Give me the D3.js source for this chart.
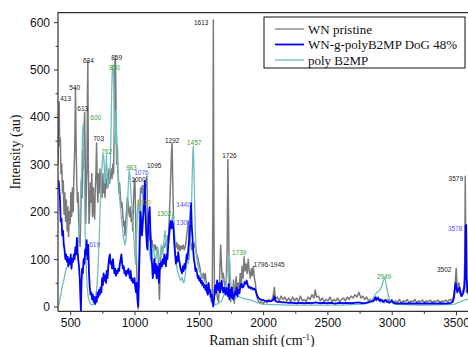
<!DOCTYPE html>
<html><head><meta charset="utf-8">
<script src="https://cdn.jsdelivr.net/npm/d3@7"></script>
<style>body{margin:0;background:#fff;}svg{display:block;}</style>
</head><body><svg id="c" width="468" height="347"></svg>
<script>
// ---- data (Raman shift cm-1 , intensity au) ----
const seriesNames = ["WN pristine", "WN-g-polyB2MP DoG 48%", "poly B2MP"];
const pristine = [[405,300],[410,380],[414,432],[418,340],[423,355],[428,280],[434,300],[440,240],[446,265],[452,195],[458,240],[464,180],[470,225],[476,160],[482,210],[487,148],[493,200],[499,175],[505,240],[511,190],[517,250],[523,200],[529,280],[535,330],[541,461],[546,340],[551,260],[556,220],[561,240],[566,180],[571,150],[577,127],[582,200],[587,265],[592,230],[597,330],[603,290],[608,380],[612,410],[617,300],[621,175],[626,260],[630,290],[634,450],[637,518],[641,300],[646,175],[651,200],[657,260],[662,220],[668,280],[673,190],[679,250],[684,200],[690,185],[695,250],[700,280],[705,345],[710,260],[715,220],[720,280],[726,240],[731,290],[737,250],[742,270],[748,230],[754,280],[759,240],[765,260],[771,230],[777,270],[783,250],[789,280],[795,255],[801,290],[807,260],[813,275],[819,290],[825,270],[831,300],[837,280],[843,380],[848,515],[852,525],[856,420],[861,300],[866,340],[872,280],[878,240],[884,260],[890,230],[896,210],[902,220],[908,200],[914,170],[920,180],[926,150],[932,180],[938,200],[944,230],[950,220],[956,200],[962,190],[968,210],[974,180],[980,200],[986,160],[992,220],[998,262],[1003,270],[1008,200],[1013,120],[1018,70],[1023,20],[1028,-5],[1033,60],[1038,150],[1043,220],[1048,250],[1054,240],[1060,255],[1066,230],[1072,250],[1078,235],[1084,260],[1090,250],[1096,275],[1101,200],[1106,150],[1112,170],[1118,140],[1124,160],[1130,135],[1136,140],[1142,125],[1148,130],[1155,120],[1162,130],[1170,118],[1178,125],[1184,110],[1190,40],[1194,15],[1198,60],[1204,110],[1210,125],[1218,120],[1226,130],[1234,125],[1242,135],[1250,130],[1258,150],[1265,140],[1272,200],[1280,260],[1287,320],[1292,345],[1297,270],[1302,200],[1308,160],[1315,130],[1322,125],[1330,135],[1338,120],[1346,130],[1354,118],[1362,128],[1370,122],[1378,130],[1386,120],[1394,125],[1402,140],[1410,160],[1418,180],[1424,150],[1430,130],[1438,135],[1446,120],[1454,130],[1462,125],[1470,135],[1478,115],[1486,110],[1494,100],[1502,90],[1510,80],[1518,65],[1526,60],[1534,70],[1542,55],[1550,70],[1558,50],[1566,45],[1574,40],[1582,30],[1590,20],[1598,10],[1604,20],[1609,200],[1613,605],[1617,200],[1622,30],[1628,25],[1636,40],[1644,20],[1652,10],[1658,30],[1664,80],[1670,130],[1676,90],[1682,60],[1690,70],[1698,50],[1706,40],[1714,60],[1720,120],[1726,310],[1731,200],[1736,60],[1742,30],[1748,10],[1755,40],[1762,20],[1770,56],[1776,7],[1784,40],[1790,63],[1798,30],[1806,50],[1814,30],[1822,70],[1830,40],[1836,85],[1844,60],[1852,105],[1860,75],[1868,90],[1876,70],[1884,100],[1892,75],[1900,60],[1908,80],[1916,65],[1924,85],[1932,60],[1940,50],[1948,25],[1958,15],[1970,8],[1985,10],[2000,5],[2015,12],[2030,8],[2045,15],[2060,10],[2075,18],[2088,40],[2095,15],[2110,20],[2125,12],[2140,22],[2155,15],[2170,20],[2185,12],[2200,18],[2215,10],[2230,20],[2245,12],[2260,18],[2275,10],[2290,22],[2305,12],[2320,15],[2335,10],[2350,20],[2365,15],[2380,25],[2395,18],[2405,35],[2415,20],[2430,22],[2445,12],[2460,18],[2475,10],[2490,15],[2505,12],[2520,20],[2535,10],[2550,15],[2565,12],[2580,18],[2595,10],[2610,15],[2625,18],[2640,12],[2655,20],[2670,15],[2685,22],[2700,18],[2715,25],[2730,20],[2745,30],[2760,18],[2775,22],[2790,15],[2805,20],[2820,12],[2835,15],[2850,10],[2865,18],[2880,12],[2895,20],[2910,10],[2925,15],[2940,8],[2955,12],[2970,15],[2985,10],[3000,15],[3015,8],[3030,12],[3045,8],[3060,15],[3075,8],[3090,12],[3105,10],[3120,15],[3135,8],[3150,12],[3165,10],[3180,15],[3195,8],[3210,12],[3225,10],[3240,14],[3255,8],[3270,12],[3285,10],[3300,14],[3315,8],[3330,12],[3345,10],[3360,14],[3375,8],[3390,12],[3405,10],[3420,14],[3435,10],[3450,15],[3465,12],[3480,20],[3490,40],[3497,65],[3502,81],[3507,50],[3514,35],[3522,50],[3530,40],[3538,25],[3546,30],[3554,35],[3562,40],[3568,100],[3572,275],[3576,120],[3582,30],[3590,30],[3600,25],[3650,25]];
const grafted = [[405,255],[410,265],[414,250],[420,230],[426,180],[432,185],[438,150],[444,160],[450,130],[456,120],[462,100],[468,110],[474,95],[480,105],[486,85],[492,100],[498,90],[504,110],[510,80],[516,100],[522,95],[528,110],[534,100],[540,125],[546,110],[552,145],[557,115],[562,100],[568,85],[574,60],[579,20],[583,-8],[587,40],[592,80],[598,70],[604,100],[610,90],[616,120],[622,110],[628,140],[634,100],[640,130],[646,70],[652,40],[658,25],[664,30],[670,15],[676,25],[682,10],[688,20],[694,5],[700,20],[706,10],[712,30],[718,20],[724,35],[730,25],[736,40],[742,30],[748,60],[754,45],[760,70],[766,55],[772,65],[778,50],[784,75],[790,60],[796,85],[802,100],[808,110],[814,90],[820,95],[826,80],[832,100],[838,85],[844,70],[850,80],[856,65],[862,75],[868,70],[874,80],[880,75],[886,90],[892,100],[898,110],[904,90],[910,80],[916,85],[922,70],[928,75],[934,65],[940,75],[946,70],[952,80],[958,70],[964,60],[970,75],[976,55],[982,60],[988,50],[994,55],[1000,60],[1006,40],[1012,30],[1018,50],[1024,10],[1029,0],[1034,60],[1040,120],[1046,200],[1052,180],[1058,150],[1064,175],[1070,200],[1076,230],[1080,265],[1085,200],[1090,160],[1096,130],[1100,120],[1106,170],[1112,195],[1118,210],[1124,150],[1130,110],[1136,90],[1142,60],[1148,80],[1154,100],[1160,70],[1166,90],[1172,60],[1178,85],[1184,70],[1190,50],[1196,90],[1202,80],[1208,95],[1214,85],[1220,100],[1226,90],[1232,110],[1238,95],[1244,85],[1250,110],[1256,100],[1262,130],[1268,150],[1274,170],[1280,180],[1286,165],[1292,180],[1298,175],[1304,160],[1310,130],[1316,110],[1322,90],[1328,105],[1334,95],[1340,115],[1346,100],[1352,90],[1358,80],[1364,75],[1370,70],[1376,85],[1382,75],[1388,90],[1394,80],[1400,95],[1406,110],[1412,100],[1418,120],[1424,140],[1430,160],[1436,200],[1440,218],[1445,170],[1450,150],[1456,120],[1462,100],[1468,90],[1474,75],[1480,80],[1486,70],[1492,60],[1498,65],[1504,55],[1510,60],[1516,50],[1522,55],[1528,45],[1534,50],[1540,40],[1546,45],[1552,35],[1558,45],[1564,30],[1570,25],[1576,50],[1582,30],[1588,35],[1594,20],[1600,25],[1606,10],[1612,0],[1618,15],[1624,40],[1630,45],[1636,30],[1642,55],[1648,40],[1654,35],[1660,50],[1666,30],[1672,45],[1678,55],[1684,35],[1690,30],[1696,40],[1702,35],[1708,25],[1714,40],[1720,30],[1726,22],[1732,48],[1738,15],[1744,35],[1750,20],[1756,40],[1762,18],[1770,15],[1778,30],[1786,25],[1794,40],[1800,22],[1808,35],[1816,28],[1824,45],[1832,48],[1840,40],[1848,42],[1856,52],[1864,48],[1872,55],[1880,45],[1888,40],[1896,42],[1904,38],[1912,40],[1920,36],[1930,38],[1940,35],[1948,28],[1956,22],[1966,18],[1976,15],[1990,14],[2005,13],[2020,12],[2035,12],[2050,11],[2065,12],[2080,14],[2088,22],[2095,12],[2110,10],[2130,10],[2150,9],[2170,9],[2200,8],[2230,8],[2260,7],[2290,8],[2320,7],[2350,8],[2380,7],[2410,9],[2440,7],[2470,8],[2500,7],[2530,8],[2560,6],[2590,8],[2620,7],[2650,8],[2680,7],[2710,8],[2740,9],[2770,7],[2800,8],[2830,10],[2860,12],[2875,20],[2885,15],[2895,18],[2905,12],[2915,15],[2930,10],[2950,14],[2965,10],[2980,8],[3000,12],[3020,7],[3050,6],[3080,7],[3110,6],[3140,7],[3170,6],[3200,7],[3230,6],[3260,7],[3290,6],[3320,7],[3350,6],[3380,7],[3410,6],[3440,7],[3460,8],[3475,10],[3485,20],[3492,40],[3498,50],[3504,38],[3510,30],[3518,35],[3526,40],[3534,28],[3542,22],[3550,25],[3558,30],[3564,40],[3570,60],[3575,170],[3579,172],[3583,60],[3590,30],[3600,28],[3650,28]];
const polyB2MP = [[405,0],[412,5],[420,14],[430,30],[440,45],[450,55],[460,70],[470,80],[480,85],[490,90],[500,95],[510,100],[520,102],[530,105],[540,110],[550,118],[560,125],[568,150],[574,180],[580,230],[585,260],[590,290],[595,360],[600,385],[605,330],[610,250],[615,170],[620,110],[626,70],[632,40],[640,20],[650,10],[660,5],[670,3],[680,5],[690,12],[700,25],[710,50],[718,90],[725,140],[732,200],[740,260],[748,300],[754,320],[759,322],[764,300],[770,260],[776,290],[782,320],[788,270],[794,250],[800,260],[806,280],[812,300],[818,380],[823,460],[828,505],[833,510],[838,480],[843,400],[848,340],[852,360],[858,415],[864,320],[870,290],[876,270],[882,240],[888,215],[894,200],[900,180],[906,165],[912,150],[918,140],[924,130],[930,135],[936,150],[942,180],[948,230],[954,270],[960,288],[966,270],[972,240],[978,215],[984,190],[990,170],[996,140],[1002,110],[1008,90],[1014,120],[1020,180],[1026,215],[1030,225],[1035,200],[1040,170],[1046,150],[1052,170],[1058,200],[1064,230],[1070,255],[1076,245],[1082,220],[1088,200],[1094,180],[1100,160],[1106,140],[1112,125],[1118,110],[1124,100],[1130,95],[1136,100],[1142,120],[1148,130],[1154,110],[1160,95],[1166,100],[1172,115],[1178,125],[1184,110],[1190,95],[1196,100],[1202,115],[1208,130],[1214,120],[1220,110],[1226,125],[1232,150],[1238,160],[1244,140],[1250,120],[1256,110],[1262,125],[1268,140],[1274,150],[1280,165],[1286,175],[1292,185],[1298,195],[1304,180],[1310,150],[1316,120],[1322,100],[1328,85],[1334,75],[1340,70],[1346,65],[1352,60],[1358,55],[1364,58],[1370,62],[1376,55],[1382,50],[1388,55],[1394,65],[1400,80],[1406,95],[1412,100],[1418,90],[1424,100],[1430,120],[1436,150],[1442,200],[1448,270],[1453,320],[1457,338],[1461,310],[1466,240],[1472,170],[1478,120],[1484,100],[1490,90],[1498,80],[1506,75],[1514,70],[1522,65],[1530,62],[1538,58],[1546,55],[1554,50],[1562,45],[1570,38],[1578,30],[1586,22],[1594,15],[1602,10],[1610,7],[1620,5],[1630,4],[1640,5],[1650,6],[1660,8],[1670,10],[1680,14],[1690,20],[1700,30],[1710,45],[1720,70],[1730,100],[1737,110],[1742,90],[1748,50],[1755,35],[1762,25],[1770,18],[1780,15],[1790,18],[1800,20],[1810,22],[1820,20],[1835,18],[1850,17],[1865,16],[1880,15],[1900,14],[1920,12],[1940,10],[1960,8],[1980,6],[2000,5],[2050,4],[2100,4],[2200,3],[2300,3],[2400,3],[2500,3],[2600,3],[2700,4],[2780,5],[2820,8],[2850,15],[2870,25],[2885,30],[2900,33],[2915,38],[2925,45],[2935,55],[2945,60],[2952,55],[2960,42],[2970,28],[2980,18],[2990,12],[3005,7],[3030,5],[3100,4],[3200,3],[3300,3],[3400,4],[3460,4],[3490,5],[3510,8],[3530,10],[3550,12],[3570,14],[3590,15],[3650,15]];

// peak annotations: [text, x (cm-1), y (au), group]
const peakLabels = [
 ["413",422,434,"k"],["540",492,457,"k"],["634",599,514,"k"],["859",819,520,"k"],["830",804,499,"g"],
 ["613",555,412,"k"],["600",656,394,"g"],["703",679,350,"k"],["762",741,322,"g"],["963",933,288,"g"],
 ["1076",998,277,"b"],["1095",1097,293,"k"],["1000",975,262,"k"],["1030",1019,214,"o"],["1292",1237,345,"k"],
 ["1302",1174,191,"g"],["1440",1325,210,"b"],["1308",1325,172,"b"],["1457",1408,341,"g"],["1613",1462,595,"k"],
 ["1726",1682,314,"k"],["619",648,126,"b"],["1739",1758,109,"g"],["1796-1945",1926,83,"k"],["2949",2885,59,"g"],
 ["3502",3352,72,"k"],["3579",3442,265,"k"],["3578",3437,160,"b"]];
const xTicks = [500,1000,1500,2000,2500,3000,3500];
const yTicks = [0,100,200,300,400,500,600];

// ---- drawing ----
const svg = d3.select("#c");
const L = 58, T = 12.7, B = 311.3, R = 475.3;
const x = d3.scaleLinear().domain([405, 3650]).range([L, R]);
const y = d3.scaleLinear().domain([-10, 620]).range([B, T]);
const colors = ["#7a7a7a", "#0000ff", "#72bdbd"];
const widths = [1.5, 1.8, 1.3];
const labelColors = {k:"#222", g:"#35a035", b:"#5555ff", o:"#b0a020"};

svg.append("clipPath").attr("id","pc").append("rect")
  .attr("x",L).attr("y",T).attr("width",R-L).attr("height",B-T);

const line = d3.line().x(d=>x(d[0])).y(d=>y(d[1]));
const gLines = svg.append("g").attr("clip-path","url(#pc)");
[[pristine,0],[polyB2MP,2],[grafted,1]].forEach(([data,i])=>{
  gLines.append("path").datum(data).attr("d",line).attr("fill","none")
    .attr("stroke",colors[i]).attr("stroke-width",widths[i]).attr("stroke-linejoin","round");
});

// labels
svg.append("g").selectAll("text").data(peakLabels).join("text")
  .attr("x",d=>x(d[1])).attr("y",d=>y(d[2]))
  .attr("font-family","Liberation Sans, Arial, sans-serif").attr("font-size",6.5)
  .attr("fill",d=>labelColors[d[3]]).text(d=>d[0]);

// axes
const ax = svg.append("g").attr("transform",`translate(0,${B})`)
  .call(d3.axisBottom(x).tickValues(xTicks).tickSize(4).tickPadding(3).tickFormat(d3.format("d")));
svg.append("g").attr("transform",`translate(0,${B})`)
  .call(d3.axisBottom(x).tickValues(d3.range(750,3650,500)).tickSize(2.5).tickFormat(""))
  .select(".domain").remove();
const ay = svg.append("g").attr("transform",`translate(${L},0)`)
  .call(d3.axisLeft(y).tickValues(yTicks).tickSize(4).tickPadding(4));
svg.append("g").attr("transform",`translate(${L},0)`)
  .call(d3.axisLeft(y).tickValues(d3.range(50,650,100)).tickSize(2.5).tickFormat(""))
  .select(".domain").remove();
svg.selectAll(".domain").attr("d",null);
svg.selectAll(".tick line").attr("stroke","#333").attr("stroke-width",1);
svg.selectAll(".tick text").attr("font-family","Liberation Sans, Arial, sans-serif").attr("font-size",12).attr("fill","#111");
// frame
svg.append("path").attr("d",`M${L},${B}H468M${L},${B}V${T}H468`).attr("fill","none")
  .attr("stroke","#333").attr("stroke-width",1.2);

// axis titles
svg.append("text").attr("transform",`translate(20,152) rotate(-90)`).attr("text-anchor","middle")
  .attr("font-family","Liberation Serif, Times New Roman, serif").attr("font-size",14).attr("fill","#111")
  .text("Intensity (au)");
const xt = svg.append("text").attr("x",262).attr("y",345).attr("text-anchor","middle")
  .attr("font-family","Liberation Serif, Times New Roman, serif").attr("font-size",14).attr("fill","#111");
xt.append("tspan").text("Raman shift (cm");
xt.append("tspan").attr("dy",-5).attr("font-size",9).text("-1");
xt.append("tspan").attr("dy",5).text(")");

// legend
const lg = svg.append("g");
lg.append("rect").attr("x",264).attr("y",17).attr("width",201).attr("height",51)
  .attr("fill","#fff").attr("stroke","#111").attr("stroke-width",1);
seriesNames.forEach((n,i)=>{
  const yy = 29 + i*15.5;
  lg.append("line").attr("x1",275).attr("x2",304).attr("y1",yy).attr("y2",yy)
    .attr("stroke",colors[i]).attr("stroke-width",i===1?1.8:1.3);
  lg.append("text").attr("x",308).attr("y",yy+4.5)
    .attr("font-family","Liberation Serif, Times New Roman, serif").attr("font-size",13).attr("fill","#111").text(n);
});
</script></body></html>
